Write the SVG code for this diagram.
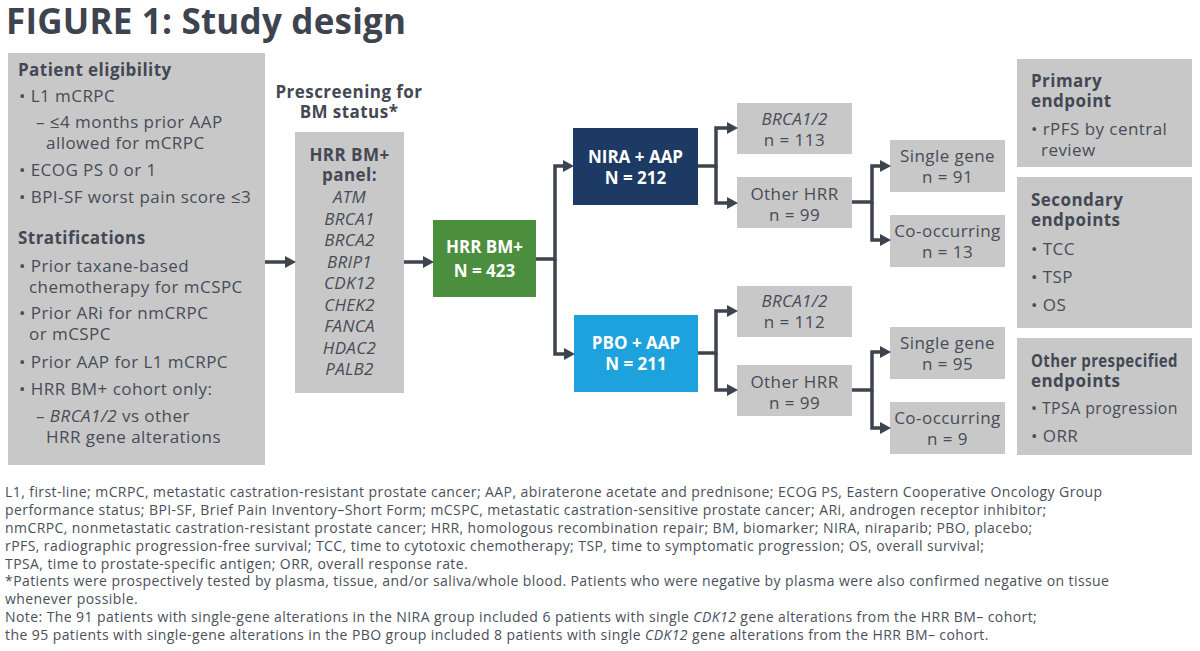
<svg xmlns="http://www.w3.org/2000/svg" width="1200" height="651" viewBox="0 0 1200 651">
<style>
text{font-family:"Open Sans","Noto Sans","Liberation Sans",sans-serif;fill:#474c57;}
.title{font-size:35px;font-weight:700;fill:#3e4350;letter-spacing:0.2px;}
.h{font-size:17px;font-weight:700;fill:#434854;letter-spacing:0.45px;}
.hc{font-size:17px;font-weight:700;fill:#434854;letter-spacing:0.45px;text-anchor:middle;}
.t{font-size:17px;letter-spacing:0.45px;}
.c{font-size:17px;text-anchor:middle;letter-spacing:0.45px;}
.ci{font-size:17px;text-anchor:middle;font-style:italic;letter-spacing:0.3px;}
.w{font-size:17px;font-weight:700;fill:#ffffff;text-anchor:middle;}
.f{font-size:14px;fill:#4a4f5a;letter-spacing:0.42px;}
.box{fill:#c8c8c8;}
.conn{fill:none;stroke:#3e4350;stroke-width:3.5;stroke-linejoin:miter;}
</style>
<defs>
<marker id="ah" markerUnits="userSpaceOnUse" markerWidth="11" markerHeight="12" viewBox="0 0 11 12" refX="4" refY="6" orient="auto">
<path d="M0,0 L11,6 L0,12 z" fill="#3e4350"/>
</marker>
</defs>
<rect width="1200" height="651" fill="#ffffff"/>
<text class="title" x="6" y="34">FIGURE 1: Study design</text>

<g id="eligibility">
<rect class="box" x="8" y="53" width="257" height="412"/>
<text class="h" x="18" y="76">Patient eligibility</text>
<text class="t" x="19" y="102">• L1 mCRPC</text>
<text class="t" x="36" y="128">– ≤4 months prior AAP</text>
<text class="t" x="46" y="149">allowed for mCRPC</text>
<text class="t" x="19" y="176">• ECOG PS 0 or 1</text>
<text class="t" x="19" y="203">• BPI-SF worst pain score ≤3</text>
<text class="h" x="18" y="244">Stratifications</text>
<text class="t" x="19" y="272">• Prior taxane-based</text>
<text class="t" x="29" y="293">chemotherapy for mCSPC</text>
<text class="t" x="19" y="319">• Prior ARi for nmCRPC</text>
<text class="t" x="29" y="340">or mCSPC</text>
<text class="t" x="19" y="368">• Prior AAP for L1 mCRPC</text>
<text class="t" x="19" y="395">• HRR BM+ cohort only:</text>
<text class="t" x="36" y="422">– <tspan font-style="italic">BRCA1/2</tspan> vs other</text>
<text class="t" x="46" y="443">HRR gene alterations</text>
</g>

<g id="prescreening">
<text class="hc" x="349" y="98">Prescreening for</text>
<text class="hc" x="349" y="118">BM status*</text>
<rect class="box" x="295" y="132" width="109" height="261"/>
<text class="hc" x="349.5" y="161">HRR BM+</text>
<text class="hc" x="349.5" y="181">panel:</text>
<text class="ci" x="349.5" y="203">ATM</text>
<text class="ci" x="349.5" y="224.5">BRCA1</text>
<text class="ci" x="349.5" y="246">BRCA2</text>
<text class="ci" x="349.5" y="267.5">BRIP1</text>
<text class="ci" x="349.5" y="289">CDK12</text>
<text class="ci" x="349.5" y="310.5">CHEK2</text>
<text class="ci" x="349.5" y="332">FANCA</text>
<text class="ci" x="349.5" y="353.5">HDAC2</text>
<text class="ci" x="349.5" y="375">PALB2</text>
</g>

<g id="hrr">
<rect x="433" y="220" width="103" height="77" fill="#4b8f3e"/>
<text class="w" x="484.5" y="253">HRR BM+</text>
<text class="w" x="484.5" y="277">N = 423</text>
</g>

<g id="nira">
<rect x="573" y="128" width="125" height="77" fill="#1c3a63"/>
<text class="w" x="635.5" y="163">NIRA + AAP</text>
<text class="w" x="635.5" y="184">N = 212</text>
</g>

<g id="pbo">
<rect x="574" y="315" width="124" height="77" fill="#1ea2de"/>
<text class="w" x="636" y="349">PBO + AAP</text>
<text class="w" x="636" y="370">N = 211</text>
</g>

<g id="nira-brca">
<rect class="box" x="737" y="103" width="115" height="51"/>
<text class="ci" x="794.5" y="125">BRCA1/2</text>
<text class="c" x="794.5" y="146">n = 113</text>
</g>
<g id="nira-other">
<rect class="box" x="737" y="177" width="115" height="51"/>
<text class="c" x="794.5" y="200">Other HRR</text>
<text class="c" x="794.5" y="221">n = 99</text>
</g>
<g id="nira-single">
<rect class="box" x="890" y="140" width="115" height="52"/>
<text class="c" x="947.5" y="162">Single gene</text>
<text class="c" x="947.5" y="183">n = 91</text>
</g>
<g id="nira-co">
<rect class="box" x="890" y="215" width="115" height="52"/>
<text class="c" x="947.5" y="237">Co-occurring</text>
<text class="c" x="947.5" y="258">n = 13</text>
</g>

<g id="pbo-brca">
<rect class="box" x="737" y="286" width="115" height="51"/>
<text class="ci" x="794.5" y="307">BRCA1/2</text>
<text class="c" x="794.5" y="328">n = 112</text>
</g>
<g id="pbo-other">
<rect class="box" x="737" y="365" width="115" height="51"/>
<text class="c" x="794.5" y="388">Other HRR</text>
<text class="c" x="794.5" y="409">n = 99</text>
</g>
<g id="pbo-single">
<rect class="box" x="890" y="327" width="115" height="52"/>
<text class="c" x="947.5" y="349">Single gene</text>
<text class="c" x="947.5" y="370">n = 95</text>
</g>
<g id="pbo-co">
<rect class="box" x="890" y="402" width="115" height="52"/>
<text class="c" x="947.5" y="424">Co-occurring</text>
<text class="c" x="947.5" y="445">n = 9</text>
</g>

<g id="primary">
<rect class="box" x="1017" y="59" width="175" height="108"/>
<text class="h" x="1031" y="87">Primary</text>
<text class="h" x="1031" y="107">endpoint</text>
<text class="t" x="1031" y="135">• rPFS by central</text>
<text class="t" x="1041" y="156">review</text>
</g>
<g id="secondary">
<rect class="box" x="1017" y="177" width="175" height="151"/>
<text class="h" x="1031" y="206">Secondary</text>
<text class="h" x="1031" y="226">endpoints</text>
<text class="t" x="1031" y="255">• TCC</text>
<text class="t" x="1031" y="283">• TSP</text>
<text class="t" x="1031" y="311">• OS</text>
</g>
<g id="other">
<rect class="box" x="1017" y="338" width="175" height="117"/>
<text class="h" x="1031" y="367" textLength="147" lengthAdjust="spacingAndGlyphs">Other prespecified</text>
<text class="h" x="1031" y="387">endpoints</text>
<text class="t" x="1031" y="414" textLength="147" lengthAdjust="spacingAndGlyphs">• TPSA progression</text>
<text class="t" x="1031" y="442">• ORR</text>
</g>

<g id="connectors">
<path class="conn" d="M265,262 H289" marker-end="url(#ah)"/>
<path class="conn" d="M404,262 H427" marker-end="url(#ah)"/>
<path class="conn" d="M536,259 H555 V166 H567" marker-end="url(#ah)"/>
<path class="conn" d="M555,259 V354 H568" marker-end="url(#ah)"/>
<path class="conn" d="M698,166 H716 V128 H731" marker-end="url(#ah)"/>
<path class="conn" d="M716,166 V203 H731" marker-end="url(#ah)"/>
<path class="conn" d="M698,353 H716 V311 H731" marker-end="url(#ah)"/>
<path class="conn" d="M716,353 V390 H731" marker-end="url(#ah)"/>
<path class="conn" d="M852,202 H872 V166 H884" marker-end="url(#ah)"/>
<path class="conn" d="M872,202 V240 H884" marker-end="url(#ah)"/>
<path class="conn" d="M852,390 H872 V352 H884" marker-end="url(#ah)"/>
<path class="conn" d="M872,390 V428 H884" marker-end="url(#ah)"/>
</g>

<g id="footnotes">
<text class="f" x="5" y="497">L1, first-line; mCRPC, metastatic castration-resistant prostate cancer; AAP, abiraterone acetate and prednisone; ECOG PS, Eastern Cooperative Oncology Group</text>
<text class="f" x="5" y="515">performance status; BPI-SF, Brief Pain Inventory–Short Form; mCSPC, metastatic castration-sensitive prostate cancer; ARi, androgen receptor inhibitor;</text>
<text class="f" x="5" y="533">nmCRPC, nonmetastatic castration-resistant prostate cancer; HRR, homologous recombination repair; BM, biomarker; NIRA, niraparib; PBO, placebo;</text>
<text class="f" x="5" y="551">rPFS, radiographic progression-free survival; TCC, time to cytotoxic chemotherapy; TSP, time to symptomatic progression; OS, overall survival;</text>
<text class="f" x="5" y="569">TPSA, time to prostate-specific antigen; ORR, overall response rate.</text>
<text class="f" x="5" y="586">*Patients were prospectively tested by plasma, tissue, and/or saliva/whole blood. Patients who were negative by plasma were also confirmed negative on tissue</text>
<text class="f" x="5" y="604">whenever possible.</text>
<text class="f" x="5" y="622">Note: The 91 patients with single-gene alterations in the NIRA group included 6 patients with single <tspan font-style="italic">CDK12</tspan> gene alterations from the HRR BM– cohort;</text>
<text class="f" x="5" y="640">the 95 patients with single-gene alterations in the PBO group included 8 patients with single <tspan font-style="italic">CDK12</tspan> gene alterations from the HRR BM– cohort.</text>
</g>
</svg>
